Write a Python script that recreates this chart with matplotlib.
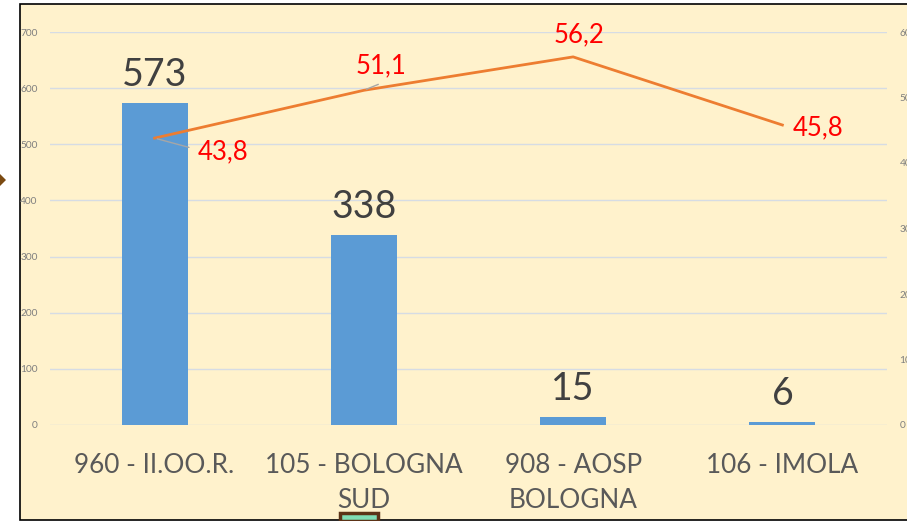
import matplotlib.pyplot as plt
from matplotlib.patches import Rectangle, Polygon

# data
categories = ["960 - II.OO.R.", "105 - BOLOGNA\nSUD", "908 - AOSP\nBOLOGNA", "106 - IMOLA"]
counts = [573, 338, 15, 6]
rates = [43.8, 51.1, 56.2, 45.8]
rate_labels = ["43,8", "51,1", "56,2", "45,8"]

# label offsets in pixels (dx, dy, ha) for the red line labels
rate_offsets = [(43, -14, "left"), (17, 24, "center"), (6, 22, "center"), (10, -3, "left")]

plt.rcParams['font.family'] = ['Lato', 'DejaVu Sans']

fig = plt.figure(figsize=(9.07, 5.21), dpi=100)
fig.patch.set_facecolor("white")

# yellow framed background
frame = Rectangle((20 / 907, 1 - 520 / 521), 1.0, 516 / 521, transform=fig.transFigure,
                  facecolor="#FFF2CC", edgecolor="black", linewidth=1.2, zorder=-10)
fig.patches.append(frame)

# little decorations cut at the edges of the screenshot
arrow = Polygon([(0, 1 - 174 / 521), (6 / 907, 1 - 180 / 521), (0, 1 - 186 / 521)],
                closed=True, transform=fig.transFigure, facecolor="#7B4A12", edgecolor="none",
                zorder=-5)
fig.patches.append(arrow)
square = Rectangle((340 / 907, 0), 38 / 907, 8 / 521, transform=fig.transFigure,
                   facecolor="#7FDDB5", edgecolor="#5C3317", linewidth=2.5, zorder=-5)
fig.patches.append(square)

ax = fig.add_axes([50 / 907, 1 - 425 / 521, 837 / 907, 393 / 521])
ax.set_facecolor("none")
x = range(len(categories))

bars = ax.bar(x, counts, width=0.315, color="#5B9BD5", zorder=2)
for xi, c in zip(x, counts):
    ax.annotate(str(c), (xi, c), xytext=(0, 10), textcoords="offset pixels",
                ha="center", va="bottom", fontsize=27, color="#404040")

ax.set_ylim(0, 700)
ax.set_xlim(-0.5, len(categories) - 0.5)
ax.set_yticks(range(0, 701, 100))
ax.grid(axis="y", color="#D6DCE4", linewidth=1, zorder=0)
ax.set_axisbelow(True)
for s in ax.spines.values():
    s.set_visible(False)
ax.tick_params(axis="y", length=0, labelsize=7.3, labelcolor="#7F7F7F", pad=9)
ax.set_xticks(list(x))
ax.set_xticklabels(categories, fontsize=18.8, color="#595959", linespacing=1.52)
ax.tick_params(axis="x", length=0, pad=20)

ax2 = ax.twinx()
ax2.set_ylim(0, 60)
ax2.set_yticks(range(0, 61, 10))
for s in ax2.spines.values():
    s.set_visible(False)
ax2.tick_params(axis="y", length=0, labelsize=7.3, labelcolor="#7F7F7F", pad=9)
ax2.plot(list(x), rates, color="#ED7D31", linewidth=2, zorder=3)

for xi, r, lab, (dx, dy, ha) in zip(x, rates, rate_labels, rate_offsets):
    ax2.annotate(lab, (xi, r), xytext=(dx, dy), textcoords="offset pixels",
                 ha=ha, va="center", fontsize=18.5, color="red")

# grey leader lines for the first two labels
ax2.annotate("", (0, rates[0]), xytext=(37, -10), textcoords="offset pixels",
             arrowprops=dict(arrowstyle="-", color="#A6A6A6", lw=1))
ax2.annotate("", (1, rates[1]), xytext=(17, 7), textcoords="offset pixels",
             arrowprops=dict(arrowstyle="-", color="#A6A6A6", lw=1))

fig.savefig("out.png", dpi=100)
